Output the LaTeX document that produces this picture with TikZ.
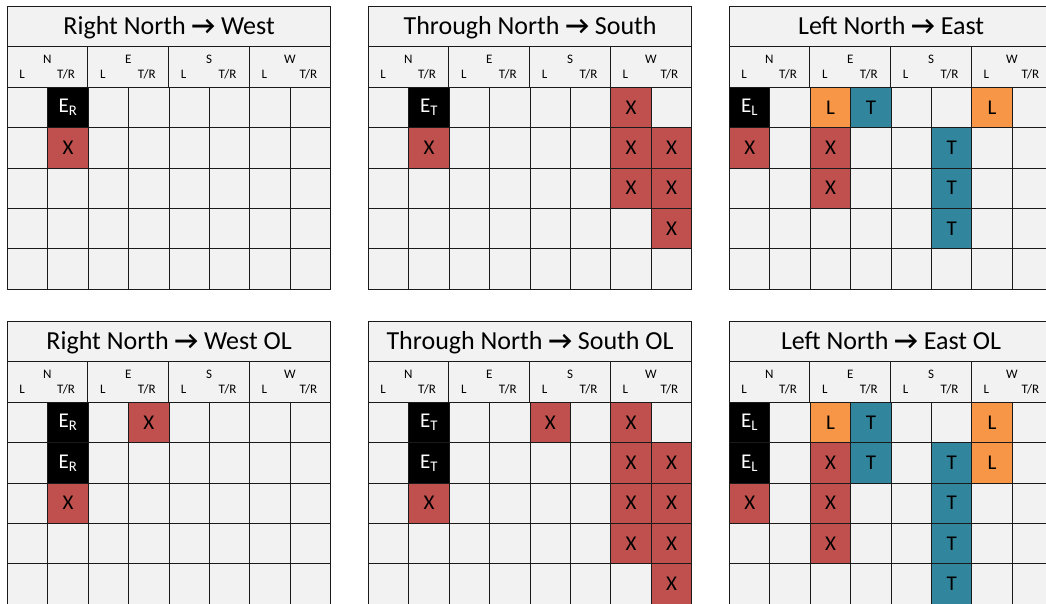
\documentclass[tikz,border=0pt]{standalone}
\usepackage{fontspec}
\setmainfont{Carlito}
\definecolor{bggray}{HTML}{F2F2F2}
\definecolor{cred}{HTML}{C0504D}
\definecolor{corange}{HTML}{F79646}
\definecolor{cteal}{HTML}{31859C}
\definecolor{lineblk}{HTML}{1A1A1A}
\newcommand{\arr}{{\bfseries →}}
\tikzset{
  gridline/.style={draw=lineblk, line width=1pt},
  titlebox/.style={gridline, fill=bggray, anchor=north west, minimum width=323.2pt, minimum height=40pt, inner sep=0pt, text height=18pt, text depth=2pt, font=\fontsize{26}{28}\selectfont},
  headbox/.style={gridline, fill=bggray, anchor=north west, minimum width=323.2pt, minimum height=41pt, inner sep=0pt},
  dirlab/.style={inner sep=0pt, font=\fontsize{13}{14}\selectfont},
  lanelab/.style={inner sep=0pt, font=\fontsize{13}{14}\selectfont},
  cellbox/.style={gridline, anchor=north west, minimum width=40.4pt, minimum height=40.3pt, inner sep=0pt, font=\fontsize{21}{24}\selectfont},
  xcell/.style={fill=cred, text=black},
  lcell/.style={fill=corange, text=black},
  tcell/.style={fill=cteal, text=black},
  ecell/.style={fill=black, text=white},
}
\newcommand{\trafpanel}[2]{%
  \node[titlebox] (#1t) at (0,0) {#2};
  \node[headbox] (#1h) at (0,40) {};
  \foreach \g/\d in {0/N,1/E,2/S,3/W}{
    \node[dirlab] (#1d\g) at ({\g*80.8+40.4},53) {\d};
    \node[lanelab] (#1l\g) at ({\g*80.8+15},68) {L};
    \node[lanelab] (#1r\g) at ({\g*80.8+59},68) {T/R};
  }
  \foreach \g in {1,2,3} \draw[gridline] ({\g*80.8},40) -- ({\g*80.8},81);
  \foreach \c in {1,...,8} \foreach \r in {1,...,5}
    \node[cellbox, fill=bggray] (#1-\c-\r) at ({(\c-1)*40.4},{81+(\r-1)*40.3}) {};
}
\newcommand{\trafcell}[5]{%
  \node[cellbox, #4] (#1m\the\numexpr#2\relax x\the\numexpr#3\relax) at ({(#2-1)*40.4},{81+(#3-1)*40.3}) {#5};}
\newcommand{\ER}{E\textsubscript{R}}
\newcommand{\ET}{E\textsubscript{T}}
\newcommand{\EL}{E\textsubscript{L}}
\begin{document}
\begin{tikzpicture}[x=1pt, y=-1pt]
\useasboundingbox (0,0) rectangle (1046,604);
\clip (0,0) rectangle (1046,604);
\fill[white] (0,0) rectangle (1046,604);
% Panel 1
\begin{scope}[shift={(7,6)}]
  \trafpanel{pa}{Right North \arr{} West}
  \trafcell{pa}{2}{1}{ecell}{\ER}
  \trafcell{pa}{2}{2}{xcell}{X}
\end{scope}
% Panel 2
\begin{scope}[shift={(368,6)}]
  \trafpanel{pb}{Through North \arr{} South}
  \trafcell{pb}{2}{1}{ecell}{\ET}
  \trafcell{pb}{2}{2}{xcell}{X}
  \foreach \r in {1,2,3} {\trafcell{pb}{7}{\r}{xcell}{X}}
  \foreach \r in {2,3,4} {\trafcell{pb}{8}{\r}{xcell}{X}}
\end{scope}
% Panel 3
\begin{scope}[shift={(729,6)}]
  \trafpanel{pc}{Left North \arr{} East}
  \trafcell{pc}{1}{1}{ecell}{\EL}
  \trafcell{pc}{1}{2}{xcell}{X}
  \trafcell{pc}{3}{1}{lcell}{L}
  \trafcell{pc}{3}{2}{xcell}{X}
  \trafcell{pc}{3}{3}{xcell}{X}
  \trafcell{pc}{4}{1}{tcell}{T}
  \foreach \r in {2,3,4} {\trafcell{pc}{6}{\r}{tcell}{T}}
  \trafcell{pc}{7}{1}{lcell}{L}
\end{scope}
% Panel 4
\begin{scope}[shift={(7,321)}]
  \trafpanel{pd}{Right North \arr{} West OL}
  \trafcell{pd}{2}{1}{ecell}{\ER}
  \trafcell{pd}{2}{2}{ecell}{\ER}
  \trafcell{pd}{2}{3}{xcell}{X}
  \trafcell{pd}{4}{1}{xcell}{X}
\end{scope}
% Panel 5
\begin{scope}[shift={(368,321)}]
  \trafpanel{pe}{Through North \arr{} South OL}
  \trafcell{pe}{2}{1}{ecell}{\ET}
  \trafcell{pe}{2}{2}{ecell}{\ET}
  \trafcell{pe}{2}{3}{xcell}{X}
  \trafcell{pe}{5}{1}{xcell}{X}
  \foreach \r in {1,2,3,4} {\trafcell{pe}{7}{\r}{xcell}{X}}
  \foreach \r in {2,3,4,5} {\trafcell{pe}{8}{\r}{xcell}{X}}
\end{scope}
% Panel 6
\begin{scope}[shift={(729,321)}]
  \trafpanel{pf}{Left North \arr{} East OL}
  \trafcell{pf}{1}{1}{ecell}{\EL}
  \trafcell{pf}{1}{2}{ecell}{\EL}
  \trafcell{pf}{1}{3}{xcell}{X}
  \trafcell{pf}{3}{1}{lcell}{L}
  \foreach \r in {2,3,4} {\trafcell{pf}{3}{\r}{xcell}{X}}
  \trafcell{pf}{4}{1}{tcell}{T}
  \trafcell{pf}{4}{2}{tcell}{T}
  \foreach \r in {2,3,4,5} {\trafcell{pf}{6}{\r}{tcell}{T}}
  \trafcell{pf}{7}{1}{lcell}{L}
  \trafcell{pf}{7}{2}{lcell}{L}
\end{scope}
\end{tikzpicture}
\end{document}
